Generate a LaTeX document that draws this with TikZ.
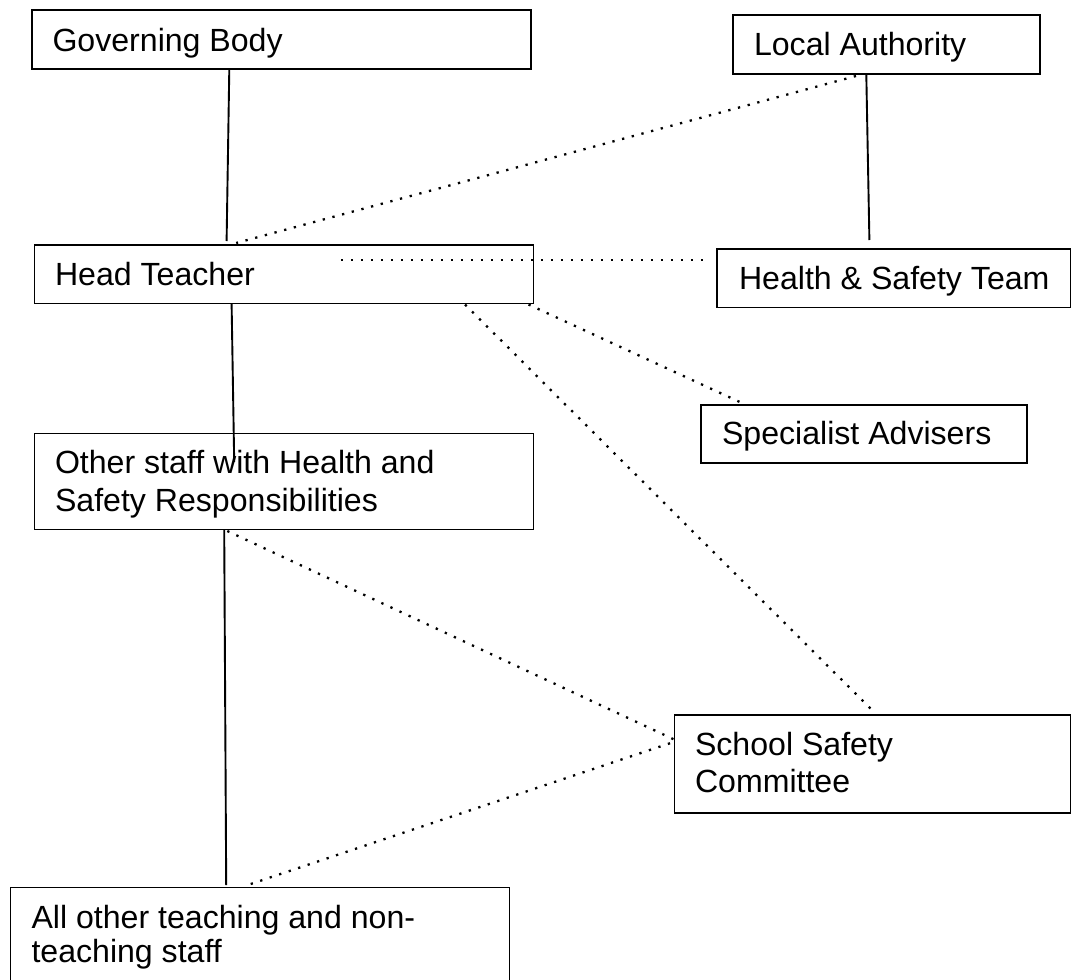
\documentclass[tikz,border=0pt]{standalone}
\usepackage{fontspec}
\setmainfont{Liberation Sans}
\usetikzlibrary{calc}
\tikzset{
  boxnode/.style={draw, line width=1.8pt, anchor=north west, inner sep=0pt, outer sep=0pt},
  lbl/.style={anchor=base west, inner sep=0pt, outer sep=0pt, font=\fontsize{32.1}{38}\selectfont},
  solidcon/.style={line width=1.9pt},
  dotcon/.style={line width=2.3pt, dash pattern=on 2.3pt off 7.7pt},
}
\begin{document}
\begin{tikzpicture}[x=1pt,y=-1pt]
\useasboundingbox (0,0) rectangle (1072,980);
\clip (0,0) rectangle (1072,980);
\fill[white] (0,0) rectangle (1072,980);

% boxes
\node[boxnode, minimum width=499pt, minimum height=59pt]   (gb)  at (32,10) {};
\node[boxnode, minimum width=307pt, minimum height=59pt]   (la)  at (733,15) {};
\node[boxnode, minimum width=499pt, minimum height=58.5pt] (ht)  at (34.5,245) {};
\node[boxnode, minimum width=353.5pt, minimum height=58.5pt] (hs) at (717,249) {};
\node[boxnode, minimum width=326pt, minimum height=58pt]   (sa)  at (701,405) {};
\node[boxnode, minimum width=499pt, minimum height=96pt]   (os)  at (34.5,433.5) {};
\node[boxnode, minimum width=396pt, minimum height=98pt]   (ssc) at (674.5,715) {};
\node[boxnode, minimum width=499pt, minimum height=110pt]  (all) at (10.5,887.5) {};

% texts
\node[lbl] (gbt)  at (52.5,51.5) {Governing Body};
\node[lbl] (lat)  at (754,55.5)  {Local Authority};
\node[lbl] (htt)  at (55,285.5)  {Head Teacher};
\node[lbl] (hst)  at (739,289.5) {Health \& Safety Team};
\node[lbl] (sat)  at (722,444.5) {Specialist Advisers};
\node[lbl] (ost1) at (55,473.5)  {Other staff with Health and};
\node[lbl] (ost2) at (55,511.5)  {Safety Responsibilities};
\node[lbl] (sst1) at (695,755.5) {School Safety};
\node[lbl] (sst2) at (695,792)   {Committee};
\node[lbl] (alt1) at (31.5,928.5) {All other teaching and non-};
\node[lbl] (alt2) at (31.5,962.5) {teaching staff};

% free-end coordinates
\coordinate (htin) at ([xshift=306.5pt,yshift=-15pt]ht.north west);
\coordinate (hsout) at ([xshift=-11pt,yshift=-11pt]hs.north west);
\coordinate (osin) at ([xshift=199.7pt,yshift=-28.5pt]os.north west);

% solid connectors
\draw[solidcon] ([xshift=197.3pt]gb.south west) -- ([xshift=192.1pt,yshift=4pt]ht.north west);
\draw[solidcon] ([xshift=133.3pt]la.south west) -- ([xshift=152.4pt,yshift=9pt]hs.north west);
\draw[solidcon] ([xshift=197.1pt]ht.south west) -- (osin);
\draw[solidcon] ([xshift=189.7pt]os.south west) -- ([xshift=215.7pt,yshift=2.5pt]all.north west);

% dotted connectors
\draw[dotcon] ([xshift=123pt,yshift=-2pt]la.south west) -- ([xshift=201.7pt,yshift=2pt]ht.north west);
\draw[dotcon] (htin) -- (hsout);
\draw[dotcon] ([xshift=494pt,yshift=-1pt]ht.south west) -- ([xshift=41.6pt,yshift=1.7pt]sa.north west);
\draw[dotcon] ([xshift=430.5pt,yshift=-1pt]ht.south west) -- ([xshift=199.5pt,yshift=3pt]ssc.north west);
\draw[dotcon] ([xshift=192.8pt,yshift=-1.5pt]os.south west) -- ([xshift=0.7pt,yshift=-25pt]ssc.north west);
\draw[dotcon] ([xshift=240.2pt,yshift=3.5pt]all.north west) -- ([yshift=-26.7pt]ssc.north west);
\end{tikzpicture}
\end{document}
